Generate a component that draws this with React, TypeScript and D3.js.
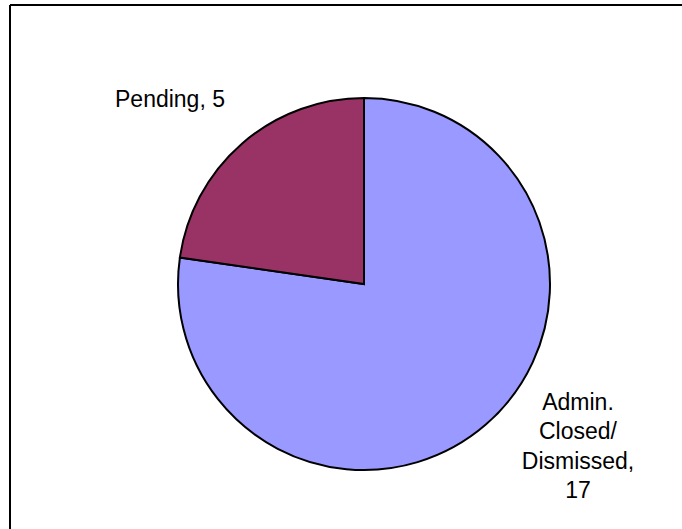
import React from "react";
import * as d3 from "d3";

const categories = ["Admin. Closed/ Dismissed", "Pending"];
const values = [17, 5];
const colors = ["#9999FF", "#993366"];
const adminLabelLines = ["Admin.", "Closed/", "Dismissed,", "17"];
const pendingLabel = "Pending, 5";

export default function App() {
  const W = 682, H = 529;
  const cx = 364, cy = 284, r = 186;
  const data = categories.map((c, i) => ({ c, v: values[i], color: colors[i] }));
  const pie = d3.pie<any>().value((d) => d.v).sort(null);
  const arcs = pie(data);
  const arc = d3.arc<any>().innerRadius(0).outerRadius(r);
  const font = "'Liberation Sans', Arial, sans-serif";
  return (
    <svg width={W} height={H} style={{ position: "fixed", left: 0, top: 0, background: "#fff" }}>
      <rect x={0} y={0} width={W} height={H} fill="#fff" />
      <line x1={10} y1={5} x2={W} y2={5} stroke="#000" strokeWidth={2} />
      <line x1={10} y1={5} x2={10} y2={H} stroke="#000" strokeWidth={2} />
      <g transform={`translate(${cx},${cy})`}>
        {arcs.map((a, i) => (
          <path key={i} d={arc(a) as string} fill={a.data.color} stroke="#000" strokeWidth={2} strokeLinejoin="miter" />
        ))}
      </g>
      <text x={115} y={107} fontFamily={font} fontSize={23} fill="#000">{pendingLabel}</text>
      <text fontFamily={font} fontSize={23} fill="#000" textAnchor="middle">
        {adminLabelLines.map((l, i) => (
          <tspan key={i} x={578} y={410 + i * 29.3}>{l}</tspan>
        ))}
      </text>
    </svg>
  );
}
